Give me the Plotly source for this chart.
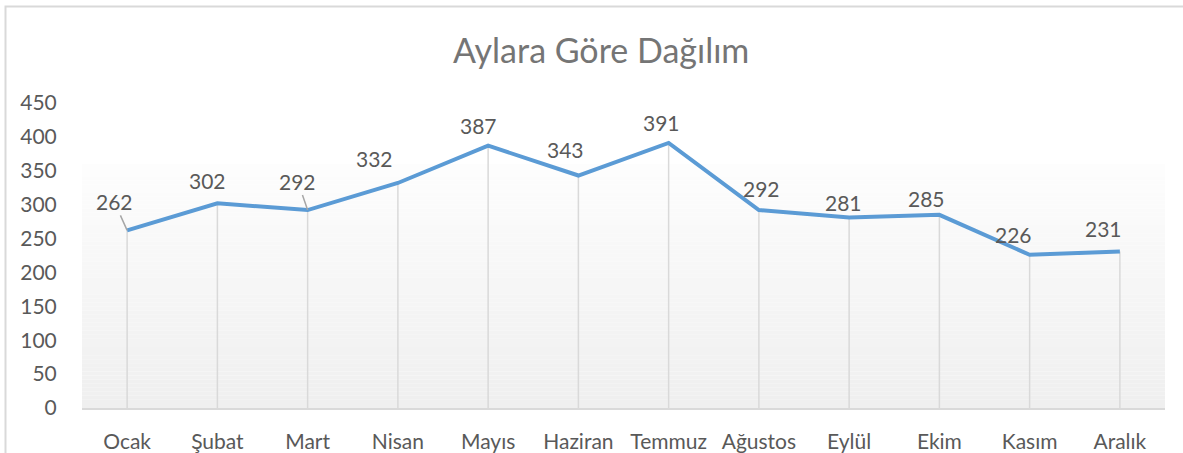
import plotly.graph_objects as go

months = ["Ocak", "Şubat", "Mart", "Nisan", "Mayıs", "Haziran", "Temmuz",
          "Ağustos", "Eylül", "Ekim", "Kasım", "Aralık"]
values = [262, 302, 292, 332, 387, 343, 391, 292, 281, 285, 226, 231]
y_ticks = [0, 50, 100, 150, 200, 250, 300, 350, 400, 450]

# label offsets (pixels, screen coords: dx right, dy down) - styling only
label_dx = [-13, -10, -10, -23, -10, -13, -7, 3, -6, -13, -16, -16]
label_dy = [-29, -23, -29, -24, -20, -26, -20, -22, -15, -16, -20, -23]
leader = [True, False, True, False, False, False, False, False, False, False, False, False]

W, H = 1183, 453
ML, MR, MT, MB = 82, 18, 103, 45
PW, PH = W - ML - MR, H - MT - MB

def px_to_paper(x, y):
    return (x - ML) / PW, (H - MB - y) / PH

FONT = "Lato"
TXT = "#595959"
FS = 21

fig = go.Figure()

# drop lines
dx_, dy_ = [], []
for m, v in zip(months, values):
    dx_ += [m, m, None]
    dy_ += [0, v, None]
fig.add_trace(go.Scatter(x=dx_, y=dy_, mode="lines",
                         line=dict(color="#d9d9d9", width=1.5),
                         hoverinfo="skip", showlegend=False))

fig.add_trace(go.Scatter(x=months, y=values, mode="lines",
                         line=dict(color="#5b9bd5", width=4),
                         showlegend=False))

shapes = []
# gradient plot-area background
top_paper = px_to_paper(0, 164)[1]
n = 60
c0, c1 = (253, 253, 253), (239, 239, 239)
for i in range(n):
    t = i / (n - 1)
    c = tuple(round(a + (b - a) * t) for a, b in zip(c0, c1))
    y1 = top_paper * (1 - i / n)
    y0 = top_paper * (1 - (i + 1) / n)
    shapes.append(dict(type="rect", xref="paper", yref="paper", x0=0, x1=1,
                       y0=y0, y1=y1, layer="below", line=dict(width=0),
                       fillcolor="rgb(%d,%d,%d)" % c))

# chart border (left and top)
bx, by_bottom = px_to_paper(5.5, 460)
_, by_top = px_to_paper(0, 6.5)
bx_r, _ = px_to_paper(1190, 0)
shapes.append(dict(type="path", xref="paper", yref="paper",
                   path=f"M {bx},{by_bottom} L {bx},{by_top} L {bx_r},{by_top}",
                   line=dict(color="#d9d9d9", width=2), layer="above"))

annotations = []
for m, v, ddx, ddy, ld in zip(months, values, label_dx, label_dy, leader):
    if ld:
        annotations.append(dict(x=m, y=v, text=str(v), showarrow=True,
                                ax=ddx, ay=ddy, arrowhead=0, arrowwidth=1.5,
                                arrowcolor="#a6a6a6", standoff=0,
                                font=dict(family=FONT, size=FS, color=TXT)))
    else:
        annotations.append(dict(x=m, y=v, text=str(v), showarrow=False,
                                xshift=ddx, yshift=-ddy,
                                font=dict(family=FONT, size=FS, color=TXT)))

annotations.append(dict(xref="paper", yref="paper",
                        x=px_to_paper(601, 0)[0], y=px_to_paper(0, 50)[1],
                        text="Aylara Göre Dağılım", showarrow=False,
                        xanchor="center", yanchor="middle",
                        font=dict(family=FONT, size=34, color="#757575")))

fig.update_layout(
    width=W, height=H,
    margin=dict(l=ML, r=MR, t=MT, b=MB, autoexpand=False),
    paper_bgcolor="white", plot_bgcolor="rgba(0,0,0,0)",
    shapes=shapes, annotations=annotations,
    xaxis=dict(type="category", categoryorder="array", categoryarray=months,
               range=[-0.5, len(months) - 0.5], automargin=False,
               showline=True, linecolor="#d9d9d9", linewidth=1.5,
               showgrid=False, zeroline=False,
               ticks="outside", ticklen=14, tickcolor="rgba(0,0,0,0)",
               tickfont=dict(family=FONT, size=FS, color=TXT)),
    yaxis=dict(range=[0, 450], tickvals=y_ticks, automargin=False,
               showline=False, showgrid=False, zeroline=False,
               ticks="outside", ticklen=20, tickcolor="rgba(0,0,0,0)",
               tickfont=dict(family=FONT, size=FS, color=TXT)),
)

fig.write_html("out.html")
